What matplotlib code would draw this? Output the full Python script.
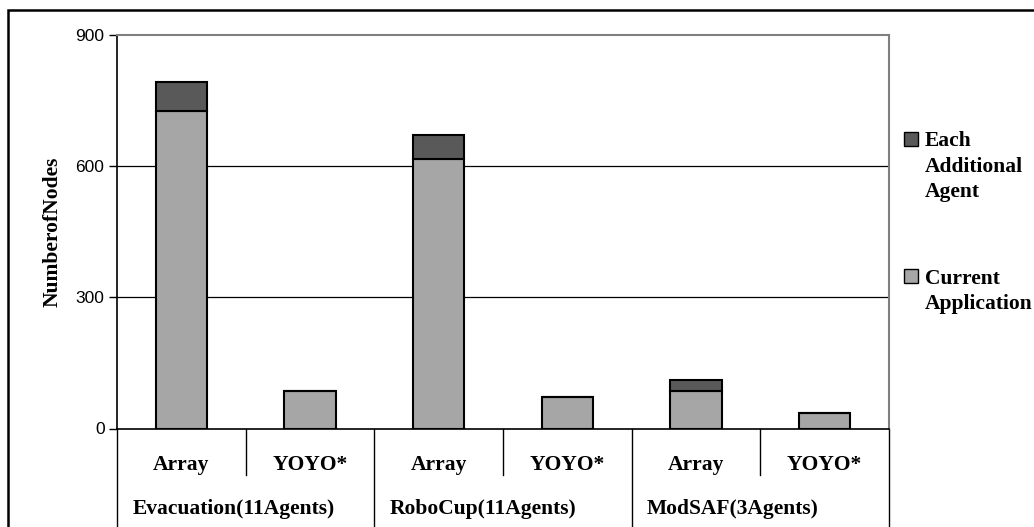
import numpy as np
import matplotlib
matplotlib.use("Agg")
import matplotlib.pyplot as plt
from matplotlib.patches import Rectangle

# data
methods = ["Array", "YOYO*", "Array", "YOYO*", "Array", "YOYO*"]
groups = ["Evacuation(11Agents)", "RoboCup(11Agents)", "ModSAF(3Agents)"]
current_app = [727, 85, 617, 73, 85, 35]
each_agent = [66, 0, 55, 0, 27, 0]
yticks = [0, 300, 600, 900]

light = "#a6a6a6"
dark = "#595959"
serif = ["Liberation Serif", "DejaVu Serif"]
W, H = 1034, 527

fig = plt.figure(figsize=(W / 100, H / 100), dpi=100)
ax = fig.add_axes([117 / W, 1 - 428.5 / H, 772 / W, 393.5 / H])

x = np.arange(len(methods))
ax.bar(x, current_app, width=0.4, color=light, edgecolor="black", linewidth=1.5, zorder=3)
ax.bar(x, each_agent, width=0.4, bottom=current_app, color=dark, edgecolor="black",
       linewidth=1.5, zorder=3)

ax.set_xlim(-0.5, len(methods) - 0.5)
ax.set_ylim(0, 900)
ax.set_yticks(yticks)
ax.set_yticklabels([str(v) for v in yticks], fontsize=12.5, family="Liberation Sans")
ax.tick_params(axis="y", length=6, width=1, direction="out", pad=3)
ax.set_xticks([])
for v in yticks[1:-1]:
    ax.axhline(v, color="black", linewidth=0.9, zorder=1)

ax.spines["left"].set_color("black")
ax.spines["bottom"].set_color("black")
ax.spines["left"].set_linewidth(1.2)
ax.spines["bottom"].set_linewidth(1.2)
ax.spines["top"].set_color("#808080")
ax.spines["right"].set_color("#808080")
ax.spines["top"].set_linewidth(1.5)
ax.spines["right"].set_linewidth(1.5)

ax.set_ylabel("NumberofNodes", fontsize=15.5, fontweight="bold", family=serif)
ax.yaxis.set_label_coords(-0.071, 0.5)

# multi-level category axis
tr = ax.get_xaxis_transform()
for i, m in enumerate(methods):
    ax.text(i, -0.1054, m, transform=tr, ha="center", va="baseline", fontsize=15.5,
            fontweight="bold", family=serif)
for i in range(len(methods) + 1):
    xpos = i - 0.5
    bottom = -0.3 if i % 2 == 0 else -0.118
    ax.plot([xpos, xpos], [0, bottom], transform=tr, color="black", linewidth=1,
            clip_on=False)
for g, name in enumerate(groups):
    ax.text(2 * g - 0.5 + 0.12, -0.217, name, transform=tr, ha="left", va="baseline",
            fontsize=15.5, fontweight="bold", family=serif)

# legend
leg = [(dark, ["Each", "Additional", "Agent"], 132, 146),
       (light, ["Current", "Application"], 269, 284)]
for col, lines, ytop, base in leg:
    fig.add_artist(Rectangle((904 / W, 1 - (ytop + 14) / H), 14 / W, 14 / H,
                             facecolor=col, edgecolor="black", linewidth=1,
                             transform=fig.transFigure))
    for k, line in enumerate(lines):
        fig.text(925 / W, 1 - (base + 25.5 * k) / H, line, ha="left", va="baseline",
                 fontsize=15.5, fontweight="bold", family=serif)

# outer border
fig.add_artist(Rectangle((8 / W, -0.1), 1.2, 1 - 10 / H + 0.1, fill=False,
                         edgecolor="black", linewidth=1.8, transform=fig.transFigure))

fig.savefig("out.png", dpi=100)
